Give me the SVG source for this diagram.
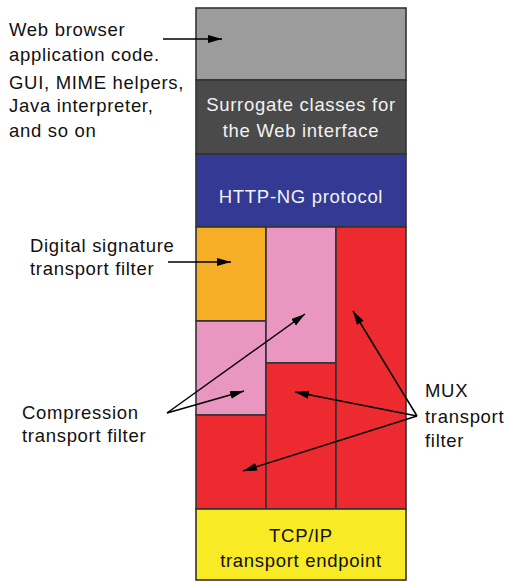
<svg xmlns="http://www.w3.org/2000/svg" width="505" height="582" viewBox="0 0 505 582">
<style>
.blk{stroke:#333;stroke-width:1.6}
.t{font-family:"Liberation Sans",Arial,sans-serif;font-size:18.5px;letter-spacing:0.7px;fill:#111}
.w{fill:#f2f2f2;text-anchor:middle}
.c{text-anchor:middle}
.ln{stroke:#000;stroke-width:1.5;fill:none;marker-end:url(#ah)}
</style>
<defs>
<marker id="ah" markerUnits="userSpaceOnUse" markerWidth="16" markerHeight="10" refX="14" refY="4" orient="auto">
<path d="M0,0 L14,4 L0,8 Z" fill="#000"/>
</marker>
</defs>
<rect width="505" height="582" fill="#fff"/>
<g id="app"><rect class="blk" x="196" y="8" width="210" height="72" fill="#9c9c9c"/></g>
<g id="surrogate"><rect class="blk" x="196" y="80" width="210" height="74" fill="#4a4a4a"/>
<text class="t w" x="301" y="111">Surrogate classes for</text>
<text class="t w" x="301" y="137">the Web interface</text></g>
<g id="http"><rect class="blk" x="196" y="154" width="210" height="73" fill="#343a94"/>
<text class="t w" x="301" y="203">HTTP-NG protocol</text></g>
<g id="sig"><rect class="blk" x="196" y="227" width="70" height="94" fill="#f6ae26"/></g>
<g id="comp1"><rect class="blk" x="196" y="321" width="70" height="94" fill="#e996c0"/></g>
<g id="mux1"><rect class="blk" x="196" y="415" width="70" height="94" fill="#ec2a2f"/></g>
<g id="comp2"><rect class="blk" x="266" y="227" width="70" height="136" fill="#e996c0"/></g>
<g id="mux2"><rect class="blk" x="266" y="363" width="70" height="146" fill="#ec2a2f"/></g>
<g id="mux3"><rect class="blk" x="336" y="227" width="70" height="282" fill="#ec2a2f"/></g>
<g id="tcp"><rect class="blk" x="196" y="509" width="210" height="71" fill="#f8ea25"/>
<text class="t c" x="301" y="542">TCP/IP</text>
<text class="t c" x="301" y="567">transport endpoint</text></g>
<g id="labels">
<text class="t" x="9" y="36">Web browser</text>
<text class="t" x="9" y="61">application code.</text>
<text class="t" x="9" y="88.5">GUI, MIME helpers,</text>
<text class="t" x="9" y="112">Java interpreter,</text>
<text class="t" x="9" y="137">and so on</text>
<text class="t" x="30" y="252">Digital signature</text>
<text class="t" x="30" y="275">transport filter</text>
<text class="t" x="22" y="418.5">Compression</text>
<text class="t" x="22" y="442">transport filter</text>
<text class="t" x="425" y="397">MUX</text>
<text class="t" x="425" y="423">transport</text>
<text class="t" x="425" y="447">filter</text>
</g>
<g id="connectors">
<line class="ln" x1="163" y1="39" x2="222" y2="39"/>
<line class="ln" x1="168" y1="262" x2="231" y2="262"/>
<line class="ln" x1="167" y1="413" x2="305" y2="314"/>
<line class="ln" x1="167" y1="413" x2="244" y2="391"/>
<line class="ln" x1="417" y1="416" x2="353" y2="311"/>
<line class="ln" x1="417" y1="416" x2="295" y2="392"/>
<line class="ln" x1="417" y1="416" x2="243" y2="471"/>
</g>
</svg>
